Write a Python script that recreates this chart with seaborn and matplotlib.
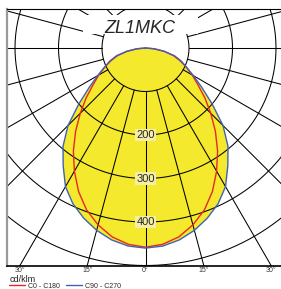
import numpy as np
import pandas as pd
import matplotlib
matplotlib.use("Agg")
import matplotlib.pyplot as plt
import seaborn as sns
from matplotlib.patches import Rectangle

# --- DADOS ---
TITLE = "ZL1MKC"
UNIT = "cd/klm"
angles = [0, 5, 10, 15, 20, 25, 30, 35, 40, 45, 50, 55, 60, 65, 70, 75, 80, 85, 90]
c0_c180 = [458, 453, 441, 421, 396, 364, 327, 289, 250, 212, 178, 147, 124, 103, 84, 66, 43, 20, 0]
c90_c270 = [460, 457, 448, 434, 416, 395, 368, 330, 295, 252, 200, 158, 127, 104, 87, 69, 44, 20, 0]
series_names = ["C0 - C180", "C90 - C270"]
ring_labels = [200, 300, 400]
tick_angles = [-30, -15, 0, 15, 30]

# --- ESTILO ---
sns.set_style("white")
plt.rcParams["font.family"] = ["Liberation Sans", "DejaVu Sans"]
YELLOW = "#f4e92c"
RED = "#e8262b"
BLUE = "#3f62b4"


def curve_xy(vals):
    th = np.r_[-np.array(angles[::-1]), np.array(angles[1:])]
    r = np.r_[np.array(vals[::-1]), np.array(vals[1:])]
    t = np.radians(th)
    return r * np.sin(t), -r * np.cos(t)


frames = []
for name, vals in zip(series_names, [c0_c180, c90_c270]):
    x, y = curve_xy(vals)
    frames.append(pd.DataFrame({"x": x, "y": y, "serie": name}))
df = pd.concat(frames, ignore_index=True)

fig = plt.figure(figsize=(2.81, 2.89), dpi=100)
ax = fig.add_axes([7 / 281, 23.5 / 289, 274 / 281, 256.5 / 289])
ax.set_xlim(-318.4, 311.5)
ax.set_ylim(-500, 89.7)

# preenchimento amarelo (curva mais larga)
bx, by = curve_xy(c90_c270)
ax.fill(bx, by, color=YELLOW, lw=0, zorder=1)

# grade polar
phi = np.linspace(0, 2 * np.pi, 400)
for r in range(100, 900, 100):
    ax.plot(r * np.sin(phi), r * np.cos(phi), color="black", lw=0.75, zorder=2)
for a in range(0, 360, 15):
    t = np.radians(a)
    ax.plot([100 * np.sin(t), 900 * np.sin(t)], [-100 * np.cos(t), -900 * np.cos(t)],
            color="black", lw=0.75, zorder=2)

# curvas
sns.lineplot(data=df, x="x", y="y", hue="serie", sort=False, estimator=None,
             palette={series_names[0]: RED, series_names[1]: BLUE},
             lw=1.0, ax=ax, zorder=3)

# rótulos dos anéis
for v in ring_labels:
    ax.text(0, -v, str(v), ha="center", va="center", fontsize=8, zorder=4,
            bbox=dict(boxstyle="square,pad=0.12", fc="#f5efa6", ec="none"))

# título com fundo branco
ax.add_patch(Rectangle((-143.7, 32.2), 264.4, 43.7, fc="white", ec="none", zorder=5))
ax.text(-12.6, 34.5, TITLE, ha="center", va="baseline", fontsize=13,
        style="italic", zorder=6)

# eixos
ax.set_xlabel("")
ax.set_ylabel("")
ax.set_yticks([])
ax.set_xticks([500 * np.tan(np.radians(a)) for a in tick_angles])
ax.set_xticklabels([f"{abs(a)}°" for a in tick_angles])
ax.tick_params(axis="x", length=0, labelsize=5, colors="#333333", pad=1)
ax.spines["right"].set_visible(False)
ax.spines["top"].set_color("black")
ax.spines["top"].set_linewidth(0.8)
ax.spines["bottom"].set_color("black")
ax.spines["bottom"].set_linewidth(1.2)
ax.spines["left"].set_color("#9a9a9a")
ax.spines["left"].set_linewidth(1.6)

fig.text(10 / 281, 1 - 279.5 / 289, UNIT, fontsize=6.5, va="center", ha="left", color="#222222")

leg = ax.legend(loc="upper left", bbox_to_anchor=(9 / 281, 1 - 282.5 / 289),
                bbox_transform=fig.transFigure, ncol=2, frameon=False, fontsize=5,
                handlelength=2.3, handletextpad=0.4, columnspacing=0.9,
                borderaxespad=0, borderpad=0, title=None)

fig.savefig("out.png", dpi=100)
